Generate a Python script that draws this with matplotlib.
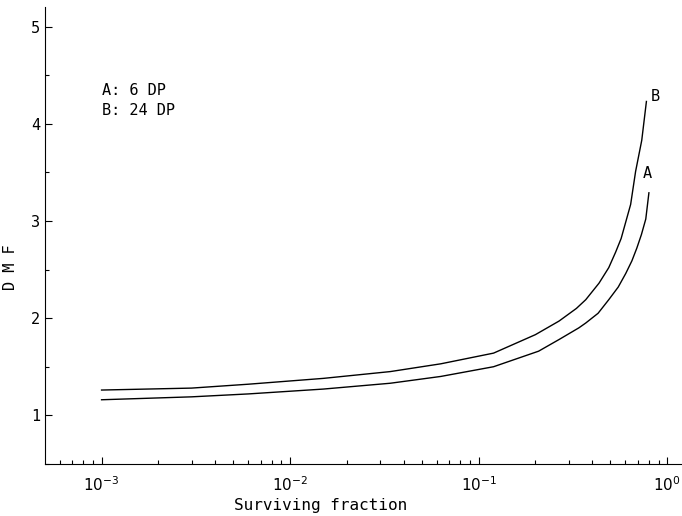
import matplotlib.pyplot as plt
from matplotlib.ticker import LogLocator, MultipleLocator, NullFormatter

# DMF vs surviving fraction, read as (fraction, DMF) pairs
frac_a = [1e-3, 3e-3, 6e-3, 0.015, 0.034, 0.063, 0.12, 0.208, 0.267, 0.34, 0.37,
          0.43, 0.49, 0.55, 0.603, 0.65, 0.69, 0.73, 0.77, 0.80]
dmf_a = [1.16, 1.19, 1.22, 1.27, 1.33, 1.40, 1.50, 1.66, 1.78, 1.90, 1.95,
         2.05, 2.19, 2.32, 2.46, 2.59, 2.72, 2.86, 3.02, 3.29]

frac_b = [1e-3, 3e-3, 6e-3, 0.015, 0.034, 0.063, 0.12, 0.20, 0.267, 0.33, 0.37,
          0.435, 0.49, 0.533, 0.57, 0.64, 0.68, 0.733, 0.776]
dmf_b = [1.26, 1.28, 1.32, 1.38, 1.45, 1.53, 1.64, 1.83, 1.97, 2.10, 2.19,
         2.36, 2.52, 2.68, 2.82, 3.17, 3.51, 3.83, 4.23]

legend_lines = ["A: 6 DP", "B: 24 DP"]

plt.rcParams['font.family'] = ['DejaVu Sans Mono', 'DejaVu Sans']
plt.rcParams['mathtext.fontset'] = 'dejavusans'

fig = plt.figure(figsize=(6.82, 5.16), dpi=100)
ax = fig.add_axes([0.066, 0.101, 0.933, 0.885])

ax.plot(frac_a, dmf_a, color='black', lw=1.0)
ax.plot(frac_b, dmf_b, color='black', lw=1.0)

ax.set_xscale('log')
ax.set_xlim(10 ** -3.30, 10 ** 0.075)
ax.set_ylim(0.5, 5.2)

ax.set_xticks([1e-3, 1e-2, 1e-1, 1e0])
ax.set_xticklabels([r'$10^{-3}$', r'$10^{-2}$', r'$10^{-1}$', r'$10^{0}$'])
ax.xaxis.set_minor_locator(LogLocator(base=10, subs=range(2, 10)))
ax.xaxis.set_minor_formatter(NullFormatter())
ax.set_yticks([1, 2, 3, 4, 5])
ax.yaxis.set_minor_locator(MultipleLocator(0.5))

ax.tick_params(which='both', direction='in', width=0.8, labelsize=11)
ax.tick_params(which='major', length=5)
ax.tick_params(which='minor', length=3)
ax.tick_params(axis='x', pad=8)

for side in ['top', 'right']:
    ax.spines[side].set_visible(False)

ax.set_xlabel('Surviving fraction', fontsize=11.5)
ax.xaxis.set_label_coords(0.433, -0.075)
ax.set_ylabel('D M F', fontsize=11)
ax.yaxis.set_label_coords(-0.043, 0.43)

# curve labels at the upper ends
ax.text(frac_a[-1] * 0.985, dmf_a[-1] + 0.12, 'A', fontsize=11, ha='center', va='bottom')
ax.text(frac_b[-1] * 1.06, dmf_b[-1] + 0.05, 'B', fontsize=11, ha='left', va='center')

ax.text(10 ** -3.0, 4.42, '\n'.join(legend_lines), fontsize=11, va='top',
        ha='left', linespacing=1.4)

fig.savefig('out.png', dpi=100)
